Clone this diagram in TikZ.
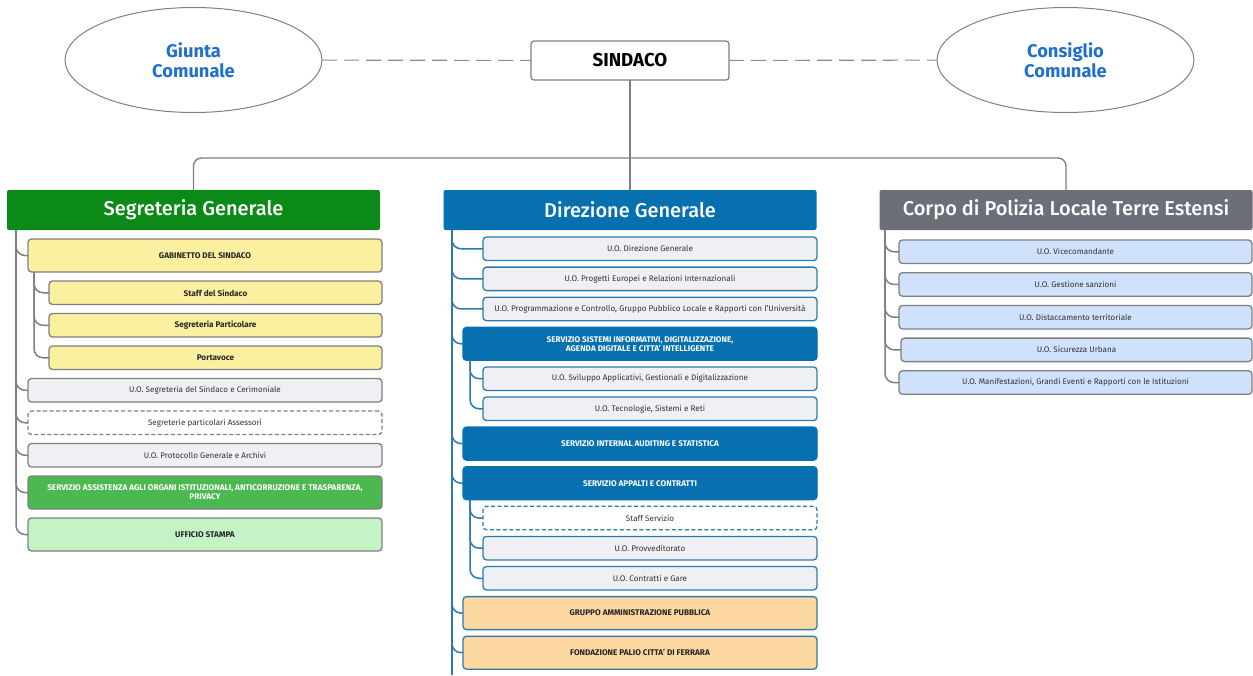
\documentclass[tikz,border=0pt]{standalone}
\usepackage{fontspec}
\setmainfont{Fira Sans}
\newfontfamily\headfont{Fira Sans Medium}
\usetikzlibrary{positioning, shapes.geometric}

\definecolor{sggreen}{RGB}{12,138,24}
\definecolor{dgblue}{RGB}{6,112,176}
\definecolor{plgray}{RGB}{108,111,119}
\definecolor{linegray}{RGB}{128,128,128}
\definecolor{boxgray}{RGB}{239,240,243}
\definecolor{gabyellow}{RGB}{251,240,160}
\definecolor{assgreen}{RGB}{76,185,80}
\definecolor{stampagreen}{RGB}{196,244,198}
\definecolor{palorange}{RGB}{252,216,160}
\definecolor{plblue}{RGB}{208,226,251}
\definecolor{ovalblue}{RGB}{32,112,205}
\definecolor{mline}{RGB}{45,122,175}
\definecolor{txtgray}{RGB}{50,50,50}

\begin{document}
\begin{tikzpicture}[
    x=1pt, y=1pt,
    every node/.style={align=center, inner sep=1pt, outer sep=0pt},
    organo/.style={ellipse, draw=linegray, line width=1pt, fill=white, minimum width=257pt, minimum height=105pt, text=ovalblue, font=\bfseries\fontsize{18.3}{19.5}\selectfont},
    capo/.style={rectangle, draw=linegray, line width=1.2pt, rounded corners=3pt, fill=white, minimum width=198pt, minimum height=39pt, font=\bfseries\fontsize{18.7}{20}\selectfont},
    head/.style={rectangle, rounded corners=2pt, minimum width=373pt, minimum height=40pt, text=white, font=\headfont\fontsize{20}{22}\selectfont},
    unit/.style={rectangle, draw=linegray, line width=1.3pt, rounded corners=3.5pt, fill=boxgray, text=txtgray, minimum height=23.5pt, font=\fontsize{8.1}{9}\selectfont},
    bold/.style={text=black!85, font=\bfseries\fontsize{8.2}{9.2}\selectfont},
    tall/.style={minimum height=33pt},
    staffbox/.style={unit, draw=linegray, fill=white, dashed, dash pattern=on 4pt off 2.5pt},
    servizio/.style={unit, bold, tall, draw=dgblue, fill=dgblue, text=white},
    mid/.style={draw=mline},
    relation/.style={draw=linegray!90, line width=1.1pt, dash pattern=on 15pt off 7pt},
    link/.style={draw=linegray, line width=1.4pt},
    ltree/.style={draw=linegray, line width=1.5pt, rounded corners=9pt},
    mtree/.style={draw=mline, line width=1.5pt, rounded corners=9pt}
]
\useasboundingbox (0,0) rectangle (1253,-675);

% vertice
\node[capo] (sindaco) at (630,-60.5) {SINDACO};
\node[organo] (giunta) at (193.5,-60) {Giunta\\Comunale};
\node[organo] (consiglio) at (1065.5,-60) {Consiglio\\Comunale};
\draw[relation] (giunta) -- (sindaco);
\draw[relation] (sindaco) -- (consiglio);

% aree
\node[head, fill=sggreen] (sg) at (193.5,-210) {Segreteria Generale};
\node[head, fill=dgblue] (dg) at (630,-210) {Direzione Generale};
\node[head, fill=plgray] (cpl) at (1066,-210) {Corpo di Polizia Locale Terre Estensi};

\coordinate (bar) at (630,-158);
\draw[link] (sindaco) -- (dg);
\draw[link, rounded corners=8pt] (sg.north) |- (bar) -| (cpl.north);

% Segreteria Generale
\node[unit, bold, tall, fill=gabyellow, minimum width=354pt, anchor=north east] (gab) at (382,-239) {GABINETTO DEL SINDACO};
\node[unit, bold, fill=gabyellow, minimum width=333pt, below=9pt of gab.south east, anchor=north east] (staff) {Staff del Sindaco};
\node[unit, bold, fill=gabyellow, minimum width=333pt, below=9pt of staff.south east, anchor=north east] (segpart) {Segreteria Particolare};
\node[unit, bold, fill=gabyellow, minimum width=333pt, below=9pt of segpart.south east, anchor=north east] (portav) {Portavoce};
\node[unit, minimum width=354pt, below=9pt of portav.south east, anchor=north east] (uosind) {U.O. Segreteria del Sindaco e Cerimoniale};
\node[staffbox, minimum width=354pt, below=9pt of uosind.south east, anchor=north east] (assess) {Segreterie particolari Assessori};
\node[unit, minimum width=354pt, below=9pt of assess.south east, anchor=north east] (protoc) {U.O. Protocollo Generale e Archivi};
\node[unit, bold, tall, fill=assgreen, text=white, minimum width=354pt, below=9pt of protoc.south east, anchor=north east] (assist) {SERVIZIO ASSISTENZA AGLI ORGANI ISTITUZIONALI, ANTICORRUZIONE E TRASPARENZA,\\PRIVACY};
\node[unit, bold, tall, fill=stampagreen, minimum width=354pt, below=9pt of assist.south east, anchor=north east] (stampa) {UFFICIO STAMPA};

\coordinate (sgtrunk) at (16,-230);
\coordinate[xshift=6pt] (gabtrunk) at (gab.south west);
\foreach \n in {gab,uosind,assess,protoc,assist,stampa}
    \draw[ltree] (sgtrunk) |- (\n.west);
\foreach \n in {staff,segpart,portav}
    \draw[ltree] (gabtrunk) |- (\n.west);

% Direzione Generale
\node[unit, mid, minimum width=334pt, anchor=north east] (uodg) at (817,-237) {U.O. Direzione Generale};
\node[unit, mid, minimum width=334pt, below=6.6pt of uodg.south east, anchor=north east] (uopeu) {U.O. Progetti Europei e Relazioni Internazionali};
\node[unit, mid, minimum width=334pt, below=6.6pt of uopeu.south east, anchor=north east] (uoprog) {U.O. Programmazione e Controllo, Gruppo Pubblico Locale e Rapporti con l'Università};
\node[servizio, minimum width=354pt, below=6.6pt of uoprog.south east, anchor=north east] (sis) {SERVIZIO SISTEMI INFORMATIVI, DIGITALIZZAZIONE,\\AGENDA DIGITALE E CITTA' INTELLIGENTE};
\node[unit, mid, minimum width=334pt, below=6.6pt of sis.south east, anchor=north east] (svil) {U.O. Sviluppo Applicativi, Gestionali e Digitalizzazione};
\node[unit, mid, minimum width=334pt, below=6.6pt of svil.south east, anchor=north east] (tecno) {U.O. Tecnologie, Sistemi e Reti};
\node[servizio, minimum width=354pt, below=6.6pt of tecno.south east, anchor=north east] (audit) {SERVIZIO INTERNAL AUDITING E STATISTICA};
\node[servizio, minimum width=354pt, below=6.6pt of audit.south east, anchor=north east] (appalti) {SERVIZIO APPALTI E CONTRATTI};
\node[staffbox, mid, minimum width=334pt, below=6.6pt of appalti.south east, anchor=north east] (stserv) {Staff Servizio};
\node[unit, mid, minimum width=334pt, below=6.6pt of stserv.south east, anchor=north east] (provv) {U.O. Provveditorato};
\node[unit, mid, minimum width=334pt, below=6.6pt of provv.south east, anchor=north east] (gare) {U.O. Contratti e Gare};
\node[unit, mid, bold, tall, fill=palorange, minimum width=354pt, below=6.6pt of gare.south east, anchor=north east] (gruppo) {GRUPPO AMMINISTRAZIONE PUBBLICA};
\node[unit, mid, bold, tall, fill=palorange, minimum width=354pt, below=6.6pt of gruppo.south east, anchor=north east] (palio) {FONDAZIONE PALIO CITTA' DI FERRARA};

\coordinate (dgtrunk) at (452,-230);
\coordinate (dgend) at (452,-675);
\coordinate[xshift=7pt] (sistrunk) at (sis.south west);
\coordinate[xshift=7pt] (apptrunk) at (appalti.south west);
\draw[mtree] (dgtrunk) -- (dgend);
\foreach \n in {uodg,uopeu,uoprog,sis,audit,appalti,gruppo,palio}
    \draw[mtree] (dgtrunk) |- (\n.west);
\foreach \n in {svil,tecno}
    \draw[mtree] (sistrunk) |- (\n.west);
\foreach \n in {stserv,provv,gare}
    \draw[mtree] (apptrunk) |- (\n.west);

% Polizia Locale
\node[unit, fill=plblue, minimum width=353pt, anchor=north east] (vice) at (1252,-240) {U.O. Vicecomandante};
\node[unit, fill=plblue, minimum width=353pt, below=9.2pt of vice.south east, anchor=north east] (sanz) {U.O. Gestione sanzioni};
\node[unit, fill=plblue, minimum width=353pt, below=9.2pt of sanz.south east, anchor=north east] (distac) {U.O. Distaccamento territoriale};
\node[unit, fill=plblue, minimum width=351pt, below=9.2pt of distac.south east, anchor=north east] (sicur) {U.O. Sicurezza Urbana};
\node[unit, fill=plblue, minimum width=353pt, below=9.2pt of sicur.south east, anchor=north east] (manif) {U.O. Manifestazioni, Grandi Eventi e Rapporti con le Istituzioni};

\coordinate (cpltrunk) at (885,-230);
\foreach \n in {vice,sanz,distac,sicur,manif}
    \draw[ltree] (cpltrunk) |- (\n.west);

\end{tikzpicture}
\end{document}
